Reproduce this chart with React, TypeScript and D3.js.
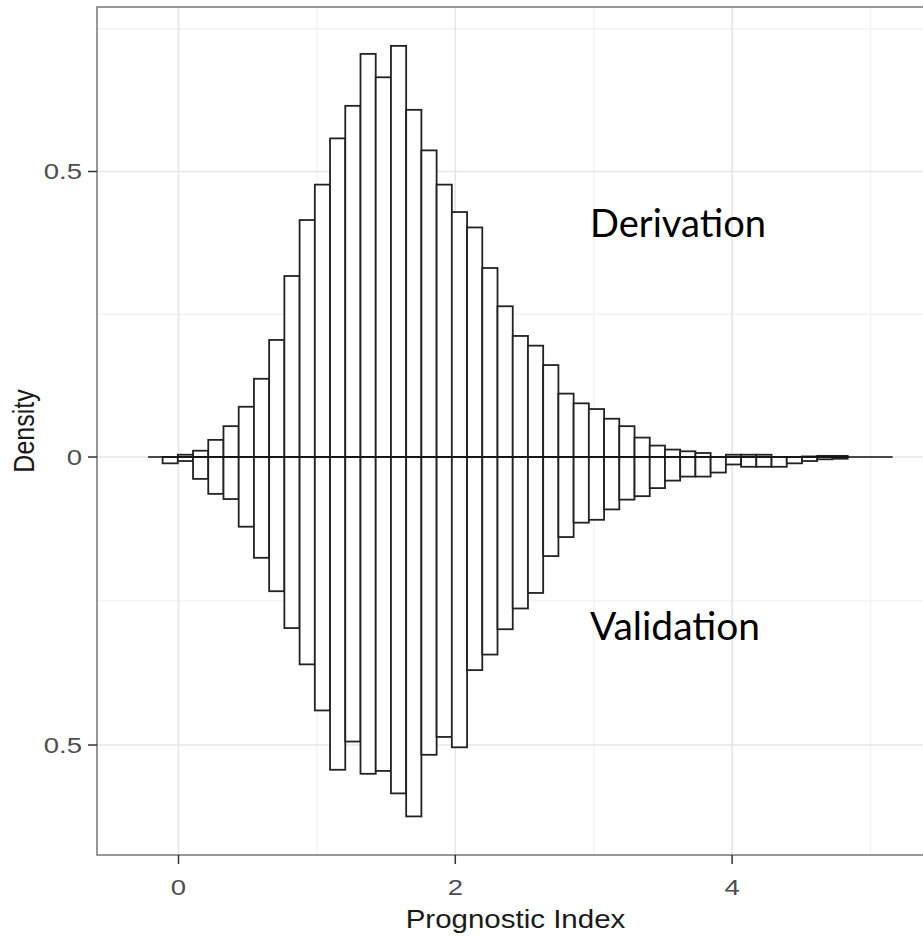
import React from "react";
import * as d3 from "d3";

// ---- Data ----
const BIN_START = -0.115; // left edge of first histogram bin
const BIN_WIDTH = 0.11;
const DERIVATION = [
  0, 0.004, 0.011, 0.03, 0.054, 0.088, 0.137, 0.205, 0.317, 0.415,
  0.477, 0.558, 0.615, 0.706, 0.665, 0.72, 0.608, 0.537, 0.477, 0.429,
  0.402, 0.331, 0.264, 0.212, 0.195, 0.161, 0.111, 0.094, 0.084, 0.067,
  0.054, 0.034, 0.02, 0.013, 0.01, 0.007, 0, 0.004, 0.004, 0.004,
  0, 0, 0.001, 0.002, 0.002,
];
const VALIDATION = [
  0.011, 0.007, 0.038, 0.064, 0.073, 0.121, 0.175, 0.233, 0.297, 0.36,
  0.44, 0.543, 0.494, 0.55, 0.545, 0.584, 0.624, 0.517, 0.486, 0.504,
  0.37, 0.343, 0.299, 0.263, 0.236, 0.172, 0.139, 0.114, 0.109, 0.091,
  0.074, 0.068, 0.054, 0.041, 0.034, 0.034, 0.027, 0.013, 0.017, 0.017,
  0.017, 0.011, 0.007, 0.004, 0.003,
];
const ZERO_LINE_X = [-0.22, 5.16];
const X_TICKS = [0, 2, 4];
const X_TICK_LABELS = ["0", "2", "4"];
const X_MINOR = [1, 3, 5];
const Y_TICKS = [0.5, 0, -0.5];
const Y_TICK_LABELS = ["0.5", "0", "0.5"];
const Y_MINOR = [0.75, 0.25, -0.25, -0.75];
const X_TITLE = "Prognostic Index";
const Y_TITLE = "Density";
const LABEL_TOP = "Derivation";
const LABEL_BOTTOM = "Validation";

// ---- Layout ----
const W = 923;
const H = 940;
const P = { left: 97, top: 7, right: 934, bottom: 855 };

export default function App() {
  const x = d3.scaleLinear().domain([0, 4]).range([178.5, 732.1]);
  const y = d3.scaleLinear().domain([-0.5, 0, 0.5]).range([745, 457, 171.5]);

  const bins = DERIVATION.map((d, i) => ({
    x0: BIN_START + i * BIN_WIDTH,
    x1: BIN_START + (i + 1) * BIN_WIDTH,
    der: d,
    val: VALIDATION[i],
  }));

  const axisFont = "'Liberation Sans', Arial, sans-serif";
  const sxTick = 1.25;
  const sxTitle = 1.18;

  return (
    <svg
      width={W}
      height={H}
      style={{ position: "absolute", left: 0, top: 0, display: "block", background: "#fff" }}
    >
      <defs>
        <clipPath id="panel">
          <rect x={P.left} y={P.top} width={P.right - P.left} height={P.bottom - P.top} />
        </clipPath>
      </defs>
      <rect x={0} y={0} width={W} height={H} fill="#fff" />
      <g clipPath="url(#panel)">
        <rect x={P.left} y={P.top} width={P.right - P.left} height={P.bottom - P.top} fill="#fff" />
        {Y_MINOR.map((v) => (
          <line key={"ym" + v} x1={P.left} x2={P.right} y1={y(v)} y2={y(v)} stroke="#f3f3f3" strokeWidth={1.6} />
        ))}
        {X_MINOR.map((v) => (
          <line key={"xm" + v} y1={P.top} y2={P.bottom} x1={x(v)} x2={x(v)} stroke="#f3f3f3" strokeWidth={1.6} />
        ))}
        {Y_TICKS.map((v) => (
          <line key={"yg" + v} x1={P.left} x2={P.right} y1={y(v)} y2={y(v)} stroke="#e6e6e6" strokeWidth={1.6} />
        ))}
        {X_TICKS.map((v) => (
          <line key={"xg" + v} y1={P.top} y2={P.bottom} x1={x(v)} x2={x(v)} stroke="#e6e6e6" strokeWidth={1.6} />
        ))}
        {bins.map((b, i) =>
          b.der > 0 ? (
            <rect
              key={"d" + i}
              x={x(b.x0)}
              y={y(b.der)}
              width={x(b.x1) - x(b.x0)}
              height={y(0) - y(b.der)}
              fill="#fff"
              stroke="#222"
              strokeWidth={1.8}
            />
          ) : null
        )}
        {bins.map((b, i) =>
          b.val > 0 ? (
            <rect
              key={"v" + i}
              x={x(b.x0)}
              y={y(0)}
              width={x(b.x1) - x(b.x0)}
              height={y(-b.val) - y(0)}
              fill="#fff"
              stroke="#222"
              strokeWidth={1.8}
            />
          ) : null
        )}
        <line
          x1={x(ZERO_LINE_X[0])}
          x2={x(ZERO_LINE_X[1])}
          y1={y(0)}
          y2={y(0)}
          stroke="#111"
          strokeWidth={1.7}
        />
        <text
          x={590}
          y={237}
          fontFamily="Lato, 'Open Sans', sans-serif"
          fontSize={38}
          fill="#000"
          textLength={176}
          lengthAdjust="spacingAndGlyphs"
        >
          {LABEL_TOP}
        </text>
        <text
          x={590}
          y={640}
          fontFamily="Lato, 'Open Sans', sans-serif"
          fontSize={38}
          fill="#000"
          textLength={170}
          lengthAdjust="spacingAndGlyphs"
        >
          {LABEL_BOTTOM}
        </text>
      </g>
      {/* panel border */}
      <rect
        x={P.left}
        y={P.top}
        width={P.right - P.left}
        height={P.bottom - P.top}
        fill="none"
        stroke="#7f7f7f"
        strokeWidth={1.6}
      />
      {/* y axis ticks + labels */}
      {Y_TICKS.map((v, i) => (
        <g key={"yt" + i}>
          <line x1={P.left - 9} x2={P.left} y1={y(v)} y2={y(v)} stroke="#333" strokeWidth={1.5} />
          <text
            transform={`translate(${P.left - 15},${y(v)}) scale(${sxTick},1)`}
            dy="0.36em"
            textAnchor="end"
            fontFamily={axisFont}
            fontSize={22}
            fill="#4d4d4d"
          >
            {Y_TICK_LABELS[i]}
          </text>
        </g>
      ))}
      {/* x axis ticks + labels */}
      {X_TICKS.map((v, i) => (
        <g key={"xt" + i}>
          <line x1={x(v)} x2={x(v)} y1={P.bottom} y2={P.bottom + 9} stroke="#333" strokeWidth={1.5} />
          <text
            transform={`translate(${x(v)},${895}) scale(${sxTick},1)`}
            textAnchor="middle"
            fontFamily={axisFont}
            fontSize={22}
            fill="#4d4d4d"
          >
            {X_TICK_LABELS[i]}
          </text>
        </g>
      ))}
      <text
        transform={`translate(${(P.left + P.right) / 2},${928}) scale(${sxTitle},1)`}
        textAnchor="middle"
        fontFamily={axisFont}
        fontSize={25}
        fill="#1a1a1a"
      >
        {X_TITLE}
      </text>
      <text
        transform={`translate(${34},${(P.top + P.bottom) / 2}) scale(${sxTitle},1) rotate(-90)`}
        textAnchor="middle"
        fontFamily={axisFont}
        fontSize={25}
        fill="#1a1a1a"
      >
        {Y_TITLE}
      </text>
    </svg>
  );
}
